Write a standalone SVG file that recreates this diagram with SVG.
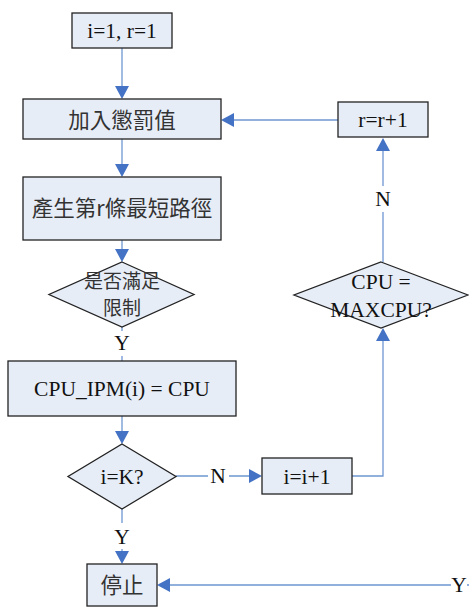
<svg xmlns="http://www.w3.org/2000/svg" width="469" height="608" viewBox="0 0 469 608">
<style>
.n{fill:#e7edf7;stroke:#222;stroke-width:1.3}
.t{font-family:"Liberation Serif","Noto Sans CJK TC",serif;font-size:21.5px;fill:#111;text-anchor:middle}
.c{font-family:"Noto Sans CJK TC","Liberation Serif",sans-serif;font-size:21.5px;fill:#333;text-anchor:middle}
.d{font-size:19px}
.l{stroke:#6f96d1;stroke-width:1.3;fill:none}
.a{fill:#4472c4}
</style>
<rect width="469" height="608" fill="#fff"/>
<g id="edges">
<path class="l" d="M122,48V86"/><path class="a" d="M115,86h14l-7,13z"/>
<path class="l" d="M122,139V164"/><path class="a" d="M115,164h14l-7,13z"/>
<path class="l" d="M122,240V249"/><path class="a" d="M115,249h14l-7,13z"/>
<path class="l" d="M122,327V331M122,356V361"/>
<path class="l" d="M122,416V431"/><path class="a" d="M115,431h14l-7,13z"/>
<path class="l" d="M176,476H208M229,476H249"/><path class="a" d="M249,469v14l13,-7z"/>
<path class="l" d="M352,476H383V341"/><path class="a" d="M376,341h14l-7,-13z"/>
<path class="l" d="M383,262V212M383,186V151"/><path class="a" d="M376,151h14l-7,-13z"/>
<path class="l" d="M338,120H234"/><path class="a" d="M234,113v14l-13,-7z"/>
<path class="l" d="M122,509V523M122,549V551"/><path class="a" d="M115,551h14l-7,13z"/>
<path class="l" d="M469,585H467M451,585H170"/><path class="a" d="M170,578v14l-13,-7z"/>
<text class="t" x="122" y="350">Y</text>
<text class="t" x="218" y="483">N</text>
<text class="t" x="383" y="206">N</text>
<text class="t" x="122" y="544">Y</text>
<text class="t" x="459" y="592">Y</text>
</g>
<g id="start"><rect class="n" x="72" y="13" width="100" height="35"/><text class="t" x="122" y="38">i=1, r=1</text></g>
<g id="penalty"><rect class="n" x="23" y="99" width="198" height="40"/><text class="c" x="122" y="128">加入懲罰值</text></g>
<g id="path"><rect class="n" x="23" y="177" width="198" height="63"/><text class="c" x="122" y="216">產生第r條最短路徑</text></g>
<g id="cond"><path class="n" d="M122,262L194,294.5L122,327L49,294.5Z"/><text class="c d" x="122" y="288">是否滿足</text><text class="c d" x="122" y="315">限制</text></g>
<g id="assign"><rect class="n" x="8" y="361" width="228" height="55"/><text class="t" x="122" y="396">CPU_IPM(i) = CPU</text></g>
<g id="ik"><path class="n" d="M122,444L176,476.5L122,509L68,476.5Z"/><text class="t" x="122" y="484">i=K?</text></g>
<g id="inc_i"><rect class="n" x="262" y="458" width="90" height="36"/><text class="t" x="307" y="484">i=i+1</text></g>
<g id="maxcpu"><path class="n" d="M381,262L468,295L381,328L294,295Z"/><text class="t" x="381" y="289">CPU =</text><text class="t" x="381" y="317">MAXCPU?</text></g>
<g id="inc_r"><rect class="n" x="338" y="102" width="90" height="35"/><text class="t" x="383" y="127">r=r+1</text></g>
<g id="stop"><rect class="n" x="87" y="564" width="70" height="42"/><text class="c" x="122" y="593">停止</text></g>
</svg>
